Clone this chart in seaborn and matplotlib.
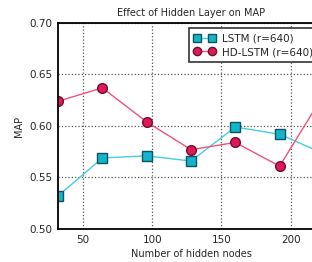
import numpy as np
import pandas as pd
import matplotlib
matplotlib.use("Agg")
import matplotlib.pyplot as plt
import seaborn as sns

# hidden layer sizes and MAP values
hidden_nodes = [32, 64, 96, 128, 160, 192, 224]
lstm_map = [0.532, 0.569, 0.571, 0.566, 0.599, 0.592, 0.573]
hdlstm_map = [0.624, 0.637, 0.604, 0.577, 0.584, 0.561, 0.631]
series_names = ["LSTM (r=640)", "HD-LSTM (r=640)"]
x_ticks = [50, 100, 150, 200]
y_ticks = [0.50, 0.55, 0.60, 0.65, 0.70]

sns.set_style("ticks")
plt.rcParams["font.family"] = ["DejaVu Sans"]

fig = plt.figure(figsize=(3.12, 2.62), dpi=100)
# the original axes run slightly past the right edge of the image
ax = fig.add_axes([58 / 312, 33 / 262, 266 / 312, 206 / 262])

df_lstm = pd.DataFrame({"nodes": hidden_nodes, "map": lstm_map})
df_hd = pd.DataFrame({"nodes": hidden_nodes, "map": hdlstm_map})

sns.lineplot(data=df_lstm, x="nodes", y="map", ax=ax, color="#45cde0",
             marker="s", markersize=7, markerfacecolor="#14b4cc",
             markeredgecolor="#0c5560", markeredgewidth=1.0,
             linewidth=1.0, label=series_names[0])
sns.lineplot(data=df_hd, x="nodes", y="map", ax=ax, color="#f0507c",
             marker="o", markersize=7, markerfacecolor="#e01a58",
             markeredgecolor="#6e0f2c", markeredgewidth=1.0,
             linewidth=1.0, label=series_names[1])

ax.set_xlim(32, 224)
ax.set_ylim(0.50, 0.70)
ax.set_xticks(x_ticks)
ax.set_yticks(y_ticks)
ax.set_yticklabels([f"{v:.2f}" for v in y_ticks])
ax.tick_params(labelsize=7.5, direction="in", length=0, pad=4)
ax.grid(True, linestyle=":", color="#555555", linewidth=0.9)
for s in ax.spines.values():
    s.set_linewidth(1.3)
    s.set_color("black")

ax.set_title("Effect of Hidden Layer on MAP", fontsize=7, pad=5)
ax.set_xlabel("Number of hidden nodes", fontsize=7, labelpad=3)
ax.set_ylabel("MAP", fontsize=7, labelpad=4)

leg = ax.legend(loc="upper right", borderaxespad=0.5, fontsize=7.5,
                fancybox=False, framealpha=1, edgecolor="#333333",
                numpoints=2, markerscale=0.85, handlelength=2.0,
                handletextpad=0.7, borderpad=0.5, labelspacing=0.35)
leg.get_frame().set_linewidth(1.2)

fig.savefig("out.png", dpi=100)
